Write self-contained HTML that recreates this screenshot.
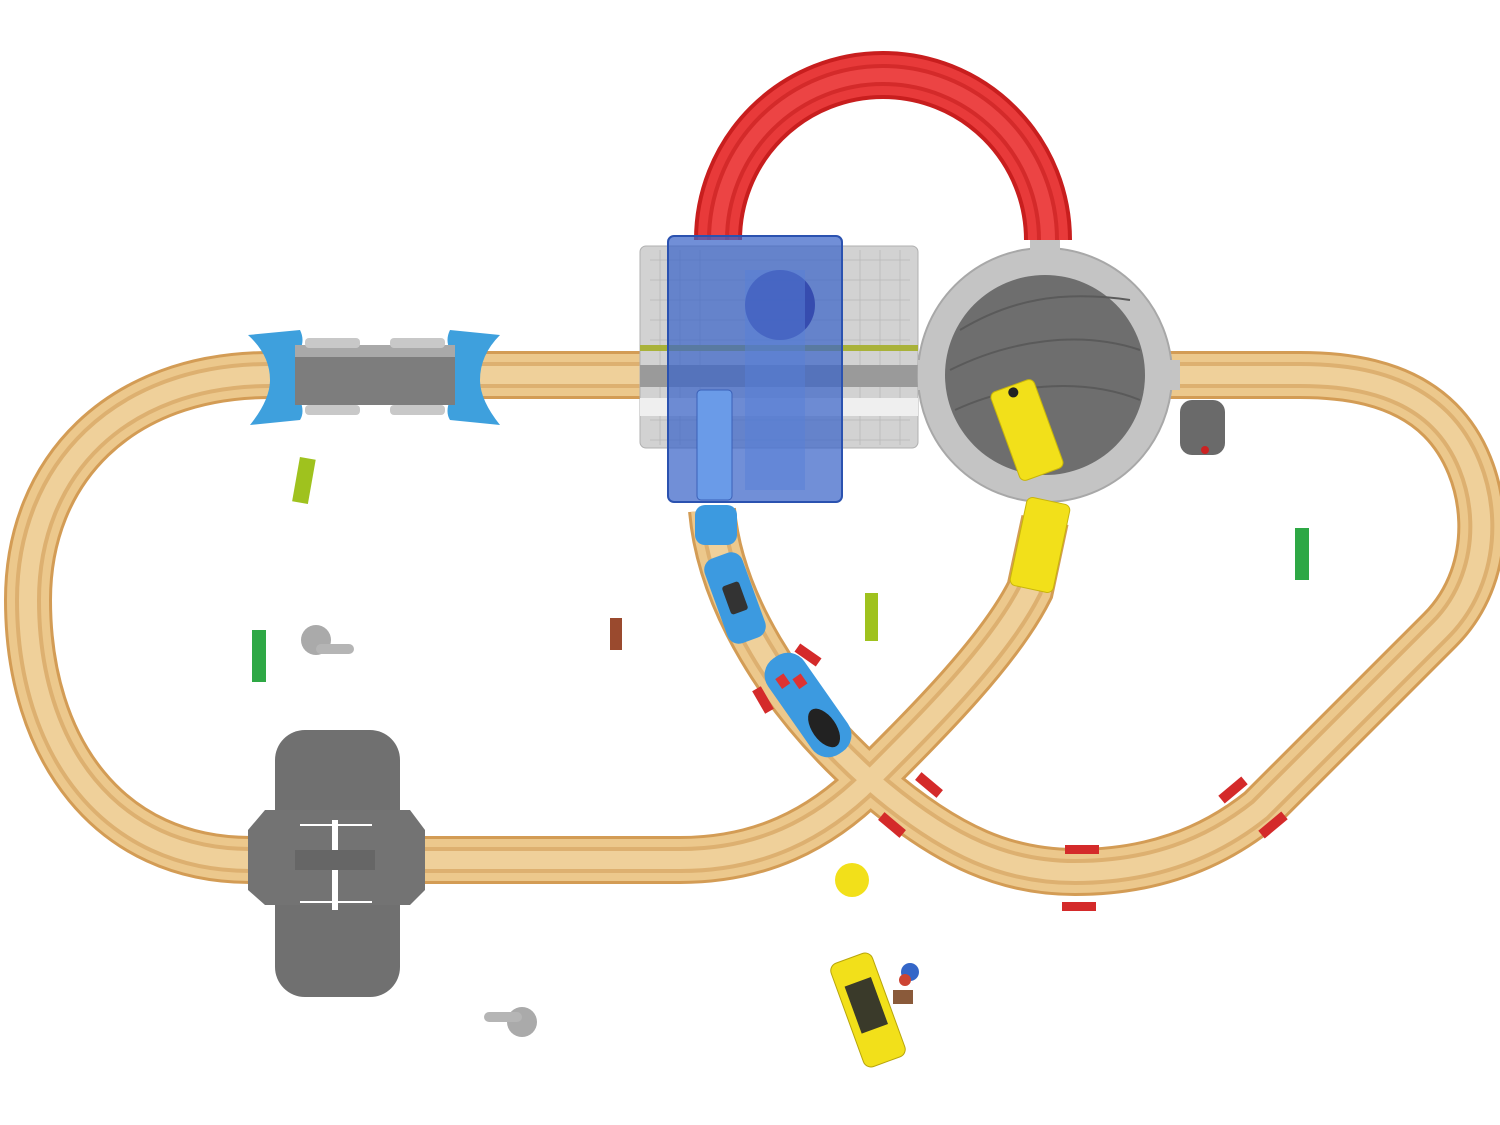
<!DOCTYPE html>
<html><head><meta charset="utf-8"><style>
html,body{margin:0;padding:0;background:#fff;}
svg{display:block;}
</style></head><body>
<svg width="1500" height="1125" viewBox="0 0 1500 1125" xmlns="http://www.w3.org/2000/svg">
<rect width="1500" height="1125" fill="#fff"/>

<defs>
  <path id="p1" d="M640,375 L270,375 C120,375 28,470 28,600 C28,750 110,860 250,860 L680,860 C760,860 820,830 870,780 C930,720 1000,650 1030,590 L1045,520"/>
  <path id="p2" d="M712,510 C720,600 780,700 870,780 C950,850 1010,872 1075,872 C1150,872 1210,850 1260,810 L1440,630 C1500,570 1490,470 1440,420 C1400,380 1340,375 1300,375 L1170,375"/>
</defs>
<g fill="none" stroke="#d39c55" stroke-width="48"><use href="#p1"/><use href="#p2"/></g>
<g fill="none" stroke="#ecc88c" stroke-width="42"><use href="#p1"/><use href="#p2"/></g>
<g fill="none" stroke="#ddb070" stroke-width="26"><use href="#p1"/><use href="#p2"/></g>
<g fill="none" stroke="#efd09a" stroke-width="18"><use href="#p1"/><use href="#p2"/></g>

<!-- red arch -->
<path d="M718,240 A165,165 0 0 1 1048,240" fill="none" stroke="#c81e1e" stroke-width="48"/>
<path d="M718,240 A165,165 0 0 1 1048,240" fill="none" stroke="#e83a3a" stroke-width="40"/>
<path d="M718,240 A165,165 0 0 1 1048,240" fill="none" stroke="#d42a2a" stroke-width="22"/>
<path d="M718,240 A165,165 0 0 1 1048,240" fill="none" stroke="#ec4444" stroke-width="14"/>

<!-- grey grid platform -->
<rect x="640" y="246" width="278" height="202" rx="6" fill="#d2d2d2" stroke="#b0b0b0"/>
<g stroke="#bdbdbd" stroke-width="1">
  <path d="M650,260H910M650,280H910M650,300H910M650,320H910M650,340H910M650,400H910M650,420H910M650,440H910"/>
  <path d="M660,250V445M680,250V445M700,250V445M860,250V445M880,250V445M900,250V445"/>
</g>
<rect x="640" y="345" width="278" height="6" fill="#a9b23a"/>
<rect x="640" y="365" width="278" height="22" fill="#9a9a9a"/>
<rect x="640" y="398" width="278" height="18" fill="#efefef"/>

<!-- turntable -->
<circle cx="1045" cy="375" r="127" fill="#c4c4c4" stroke="#a8a8a8" stroke-width="2"/>
<rect x="1030" y="240" width="30" height="30" fill="#c4c4c4"/>
<rect x="918" y="360" width="30" height="30" fill="#c4c4c4"/>
<rect x="1150" y="360" width="30" height="30" fill="#c4c4c4"/>
<circle cx="1045" cy="375" r="100" fill="#6e6e6e"/>
<g fill="none" stroke="#5a5a5a" stroke-width="2">
  <path d="M960,330 C1010,300 1060,290 1130,300"/><path d="M950,370 C1010,340 1080,330 1140,350"/><path d="M955,410 C1020,380 1090,380 1140,400"/>
</g>
<rect x="1180" y="400" width="45" height="55" rx="12" fill="#6a6a6a"/>
<circle cx="1205" cy="450" r="4" fill="#c22"/>

<!-- blue station -->
<rect x="668" y="236" width="174" height="266" rx="6" fill="#3a64c8" fill-opacity="0.72" stroke="#2b52b0" stroke-width="2"/>
<circle cx="780" cy="305" r="35" fill="#2a3fa8" fill-opacity="0.8"/>
<rect x="745" y="270" width="60" height="220" fill="#5880d8" fill-opacity="0.5"/>
<rect x="697" y="390" width="35" height="110" rx="4" fill="#6a9be8" stroke="#3a60b8"/>

<!-- blue tunnel -->
<path d="M248,335 L300,330 Q305,340 300,350 L300,400 Q305,412 300,420 L250,425 Q270,400 270,380 Q270,355 248,335Z" fill="#3ea0dd"/>
<path d="M500,335 L450,330 Q445,340 450,350 L450,400 Q445,412 450,420 L500,425 Q480,400 480,380 Q480,355 500,335Z" fill="#3ea0dd"/>
<rect x="295" y="345" width="160" height="60" fill="#7d7d7d"/>
<rect x="295" y="345" width="160" height="12" fill="#a9a9a9"/>
<rect x="305" y="338" width="55" height="10" rx="4" fill="#c8c8c8"/><rect x="390" y="338" width="55" height="10" rx="4" fill="#c8c8c8"/>
<rect x="305" y="405" width="55" height="10" rx="4" fill="#c8c8c8"/><rect x="390" y="405" width="55" height="10" rx="4" fill="#c8c8c8"/>

<!-- grey bridge piece -->
<rect x="275" y="730" width="125" height="267" rx="30" fill="#707070"/>
<path d="M265,810 L410,810 L425,830 L425,890 L410,905 L265,905 L248,890 L248,830Z" fill="#737373"/>
<path d="M300,825H372M300,902H372" stroke="#fff" stroke-width="2"/>
<rect x="332" y="820" width="6" height="90" fill="#fff"/>
<rect x="295" y="850" width="80" height="20" fill="#666"/>

<!-- blue train -->
<g>
  <rect x="695" y="505" width="42" height="40" rx="10" fill="#3c9ae0"/>
  <g transform="translate(735,598) rotate(-20)"><rect x="-20" y="-45" width="40" height="90" rx="12" fill="#3c9ae0"/><rect x="-9" y="-15" width="18" height="30" rx="3" fill="#333"/></g>
  <g transform="translate(808,705) rotate(-35)"><rect x="-22" y="-58" width="44" height="116" rx="20" fill="#3c9ae0"/><ellipse cx="0" cy="28" rx="12" ry="22" fill="#222"/><rect x="-12" y="-40" width="10" height="12" fill="#d33"/><rect x="2" y="-30" width="10" height="12" fill="#d33"/></g>
</g>

<!-- yellow train -->
<g transform="translate(1027,430) rotate(-20)"><rect x="-23" y="-47" width="46" height="94" rx="6" fill="#f2e01a" stroke="#c8b50a"/><circle cx="0" cy="-40" r="5" fill="#222"/></g>
<g transform="translate(1040,545) rotate(12)"><rect x="-22" y="-45" width="44" height="90" rx="6" fill="#f2e01a" stroke="#c8b50a"/></g>

<!-- red pieces -->
<g fill="#d42a2a">
  <rect x="795" y="650" width="26" height="10" transform="rotate(35 808 655)"/>
  <rect x="750" y="695" width="26" height="10" transform="rotate(60 763 700)"/>
  <rect x="915" y="780" width="28" height="10" transform="rotate(40 929 785)"/>
  <rect x="878" y="820" width="28" height="10" transform="rotate(40 892 825)"/>
  <rect x="1065" y="845" width="34" height="9"/>
  <rect x="1062" y="902" width="34" height="9"/>
  <rect x="1218" y="785" width="30" height="10" transform="rotate(-40 1233 790)"/>
  <rect x="1258" y="820" width="30" height="10" transform="rotate(-40 1273 825)"/>
</g>

<!-- small bits -->
<rect x="296" y="458" width="16" height="45" fill="#9fc21e" transform="rotate(10 304 480)"/>
<rect x="252" y="630" width="14" height="52" fill="#2ea845"/>
<rect x="865" y="593" width="13" height="48" fill="#9fc21e"/>
<rect x="1295" y="528" width="14" height="52" fill="#2ea845"/>
<rect x="610" y="618" width="12" height="32" fill="#9a4a2e"/>
<circle cx="316" cy="640" r="15" fill="#aaa"/><rect x="316" y="644" width="38" height="10" rx="5" fill="#b5b5b5"/>
<circle cx="522" cy="1022" r="15" fill="#aaa"/><rect x="484" y="1012" width="38" height="10" rx="5" fill="#b5b5b5"/>
<circle cx="852" cy="880" r="17" fill="#f2e01a"/>
<g transform="translate(868,1010) rotate(-20)"><rect x="-22" y="-55" width="44" height="110" rx="8" fill="#f2e01a" stroke="#b8a50a"/><rect x="-14" y="-30" width="28" height="50" fill="#3a3a2a"/></g>
<circle cx="910" cy="972" r="9" fill="#3466c8"/><circle cx="905" cy="980" r="6" fill="#c43"/>
<rect x="893" y="990" width="20" height="14" fill="#8a5a3a"/>
</svg>
</body></html>
